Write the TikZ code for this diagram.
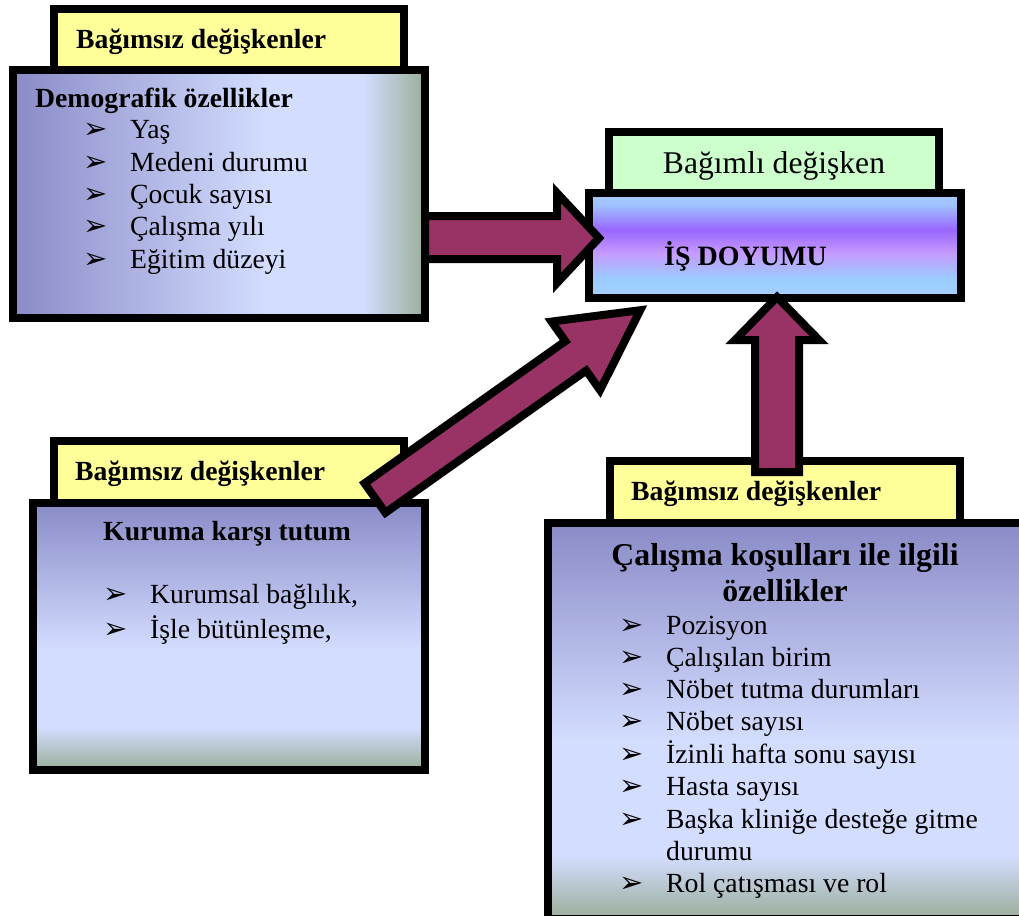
\documentclass[tikz,border=0pt]{standalone}
\usepackage{fontspec}
\setmainfont{Liberation Serif}
\newfontfamily\dejavu{DejaVu Sans}
\definecolor{ylw}{HTML}{FFFF99}
\definecolor{grn}{HTML}{CCFFCC}
\definecolor{arrowfill}{HTML}{993366}
\definecolor{bdark}{HTML}{8A8BC7}
\definecolor{blight}{HTML}{D3DDFF}
\definecolor{bgreen}{HTML}{99AE99}
\definecolor{iblue}{HTML}{A8CCFF}
\definecolor{iblueb}{HTML}{9FC0FF}
\definecolor{ipurple}{HTML}{9966FF}
\definecolor{ilav}{HTML}{C69AFF}
\definecolor{ibluec}{HTML}{99CCFF}
\definecolor{iblued}{HTML}{A8D0FF}
\pgfdeclarehorizontalshading{demoshade}{100bp}{color(0bp)=(bdark); color(25bp)=(bdark); color(56bp)=(blight); color(67.5bp)=(blight); color(75bp)=(bgreen); color(100bp)=(bgreen)}
\pgfdeclareverticalshading{boxshade}{100bp}{color(0bp)=(bgreen); color(25bp)=(bgreen); color(33bp)=(blight); color(47.5bp)=(blight); color(75bp)=(bdark); color(100bp)=(bdark)}
\pgfdeclareverticalshading{isshade}{100bp}{color(0bp)=(iblued); color(25bp)=(iblued); color(34bp)=(ibluec); color(46.5bp)=(ilav); color(57.5bp)=(ipurple); color(69bp)=(iblueb); color(75bp)=(iblue); color(100bp)=(iblue)}
\tikzset{
  frame/.style={draw=black, line width=8pt, inner sep=0pt, outer sep=0pt, anchor=north west},
  blk/.style={draw=black, fill=arrowfill, line width=8pt, miter limit=20},
  hdr/.style={inner sep=0pt, anchor=base west, font=\fontsize{27.7}{32}\selectfont\bfseries},
  ttl/.style={inner sep=0pt, anchor=base west, font=\fontsize{27.7}{32}\selectfont\bfseries},
  item/.style={inner sep=0pt, anchor=base west, font=\fontsize{27.7}{32}\selectfont},
  bul/.style={inner sep=0pt, anchor=base west, font=\dejavu\fontsize{29}{29}\selectfont},
}
\begin{document}
\begin{tikzpicture}[x=1pt,y=-1pt]
\useasboundingbox (0,0) rectangle (1019,915);
\clip (0,0) rectangle (1019,915);
% ---- box 1 ----
\node[frame, fill=ylw, minimum width=350pt, minimum height=61pt] (h1) at (54,9) {};
\node[frame, shading=demoshade, minimum width=412pt, minimum height=248pt] (b1) at (13,70) {};
\node[hdr] (h1t) at (76,48.3) {Bağımsız değişkenler};
\node[ttl] (b1t) at (35,107) {Demografik özellikler};
\foreach \n/\yy/\txt in {1/139/Yaş, 2/171.5/Medeni durumu, 3/203.5/Çocuk sayısı, 4/235.5/Çalışma yılı, 5/268/Eğitim düzeyi}{
  \node[bul] (b1b\n) at (83,\yy) {➢};
  \node[item] (b1i\n) at (130,\yy) {\txt};
}
% ---- dependent ----
\node[frame, fill=grn, minimum width=330pt, minimum height=61pt] (dv) at (609,132) {};
\node[frame, shading=isshade, minimum width=372pt, minimum height=105pt] (is) at (589,193) {};
\node[inner sep=0pt, anchor=base, font=\fontsize{31.6}{36}\selectfont] (dvt) at (774,173) {Bağımlı değişken};
\node[inner sep=0pt, anchor=base west, font=\fontsize{28}{32}\selectfont\bfseries] (ist) at (664,265.7) {İŞ DOYUMU};
% ---- box 2 ----
\node[frame, fill=ylw, minimum width=350pt, minimum height=62pt] (h2) at (54,441) {};
\node[frame, shading=boxshade, minimum width=392pt, minimum height=267pt] (b2) at (33,503) {};
\node[hdr] (h2t) at (75,480) {Bağımsız değişkenler};
\node[ttl] (b2t) at (103,540) {Kuruma karşı tutum};
\foreach \n/\yy/\txt in {1/603/{Kurumsal bağlılık,}, 2/638/{İşle bütünleşme,}}{
  \node[bul] (b2b\n) at (103,\yy) {➢};
  \node[item] (b2i\n) at (150,\yy) {\txt};
}
% ---- box 3 ----
\node[frame, fill=ylw, minimum width=350pt, minimum height=62pt] (h3) at (610,461) {};
\node[frame, shading=boxshade, minimum width=475pt, minimum height=396pt] (b3) at (548,523) {};
\node[hdr] (h3t) at (631,500.7) {Bağımsız değişkenler};
\node[inner sep=0pt, anchor=base, font=\fontsize{31.8}{38}\selectfont\bfseries] (b3t1) at (785,565) {Çalışma koşulları ile ilgili};
\node[inner sep=0pt, anchor=base, font=\fontsize{31.8}{38}\selectfont\bfseries] (b3t2) at (785,601.7) {özellikler};
\foreach \n/\yy/\txt in {1/634/Pozisyon, 2/666/Çalışılan birim, 3/698/Nöbet tutma durumları, 4/730/Nöbet sayısı, 5/763/İzinli hafta sonu sayısı, 6/795/Hasta sayısı, 7/828/Başka kliniğe desteğe gitme, 9/892/Rol çatışması ve rol}{
  \node[bul] (b3b\n) at (619,\yy) {➢};
  \node[item] (b3i\n) at (666,\yy) {\txt};
}
\node[item] (b3i8) at (666,860) {durumu};
% ---- arrows ----
\coordinate (a1s) at (425,237.5);
\coordinate (a1e) at (599,238);
\draw[blk] (a1s |- 0,216) -- (557,216) -- (557,193) -- (a1e) -- (557,283) -- (557,259) -- (a1s |- 0,259) -- cycle;
\coordinate (a2s) at (375,498);
\begin{scope}[shift={(a2s)}, rotate=35.3]
  \draw[blk] (0,18) -- (246,18) -- (246,42) -- (325,0) coordinate (a2e) -- (246,-42) -- (246,-18) -- (0,-18) -- cycle;
\end{scope}
\coordinate (a3s) at (777,472);
\coordinate (a3e) at (777,297);
\draw[blk] (755,472) -- (755,340) -- (735,340) -- (a3e) -- (819,340) -- (799,340) -- (799,472) -- cycle;
\end{tikzpicture}
\end{document}
